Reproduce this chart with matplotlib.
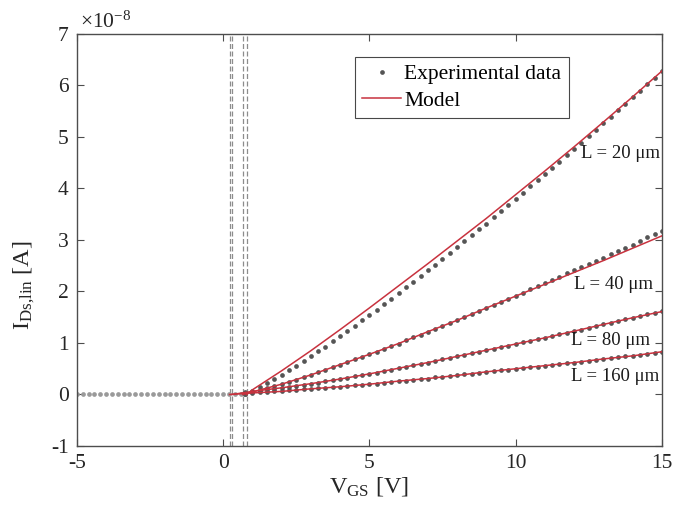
import numpy as np
import matplotlib
matplotlib.use('Agg')
import matplotlib.pyplot as plt

plt.rcParams['font.family'] = ['Liberation Serif', 'DejaVu Serif']
plt.rcParams['mathtext.fontset'] = 'custom'
plt.rcParams['mathtext.rm'] = 'Liberation Serif'
plt.rcParams['mathtext.it'] = 'Liberation Serif:italic'
plt.rcParams['axes.unicode_minus'] = False

# --- data (current in units of 1e-8 A) ---
lengths = ['20', '40', '80', '160']

# off region: all devices at zero current
v_off = np.arange(-5, 0.61, 0.2)
i_off = [0.0] * len(v_off)

# on region sweep
v_on = np.arange(0.75, 15.01, 0.25)
i_L20 = [0.01, 0.07, 0.14, 0.22, 0.30, 0.38, 0.47, 0.56, 0.65, 0.74, 0.84, 0.93, 1.03, 1.13, 1.23,
         1.33, 1.44, 1.54, 1.65, 1.75, 1.86, 1.97, 2.08, 2.19, 2.30, 2.41, 2.52, 2.63, 2.75, 2.86,
         2.98, 3.09, 3.21, 3.32, 3.44, 3.56, 3.68, 3.80, 3.92, 4.04, 4.16, 4.28, 4.40, 4.52, 4.65,
         4.77, 4.89, 5.02, 5.14, 5.27, 5.39, 5.52, 5.65, 5.77, 5.90, 6.03, 6.15, 6.28]
i_L40 = [0.01, 0.05, 0.08, 0.12, 0.16, 0.20, 0.25, 0.29, 0.34, 0.38, 0.43, 0.48, 0.53, 0.58, 0.63,
         0.68, 0.73, 0.78, 0.83, 0.88, 0.94, 0.99, 1.05, 1.11, 1.16, 1.22, 1.27, 1.33, 1.39, 1.44,
         1.50, 1.56, 1.62, 1.68, 1.74, 1.80, 1.86, 1.92, 1.98, 2.04, 2.10, 2.16, 2.22, 2.28, 2.35,
         2.41, 2.47, 2.54, 2.60, 2.66, 2.72, 2.79, 2.85, 2.91, 2.98, 3.05, 3.11, 3.17]
i_L80 = [0.04, 0.05, 0.07, 0.09, 0.11, 0.12, 0.15, 0.17, 0.19, 0.21, 0.23, 0.26, 0.28, 0.30, 0.32,
         0.35, 0.37, 0.40, 0.42, 0.45, 0.48, 0.51, 0.54, 0.57, 0.59, 0.62, 0.65, 0.68, 0.71, 0.74,
         0.77, 0.80, 0.83, 0.86, 0.89, 0.92, 0.95, 0.98, 1.01, 1.04, 1.07, 1.10, 1.13, 1.17, 1.20,
         1.23, 1.26, 1.30, 1.33, 1.36, 1.39, 1.43, 1.46, 1.49, 1.52, 1.56, 1.59, 1.62]
i_L160 = [0.03, 0.03, 0.04, 0.05, 0.06, 0.06, 0.08, 0.09, 0.10, 0.11, 0.12, 0.13, 0.14, 0.15, 0.16,
          0.18, 0.19, 0.20, 0.21, 0.23, 0.24, 0.26, 0.27, 0.29, 0.30, 0.31, 0.33, 0.34, 0.36, 0.37,
          0.39, 0.40, 0.42, 0.44, 0.45, 0.47, 0.48, 0.50, 0.51, 0.53, 0.54, 0.56, 0.57, 0.59, 0.61,
          0.62, 0.64, 0.66, 0.67, 0.69, 0.70, 0.72, 0.74, 0.75, 0.77, 0.79, 0.80, 0.82]

# threshold voltages (dashed lines) and model curves
vth = [0.81, 0.67, 0.31, 0.22]
v_model = list(range(1, 16))
m_L20 = [0.09, 0.46, 0.85, 1.26, 1.68, 2.11, 2.54, 2.98, 3.42, 3.88, 4.34, 4.81, 5.29, 5.78, 6.28]
m_L40 = [0.05, 0.20, 0.38, 0.58, 0.78, 0.99, 1.22, 1.44, 1.68, 1.91, 2.14, 2.37, 2.60, 2.84, 3.08]
m_L80 = [0.06, 0.13, 0.21, 0.30, 0.40, 0.51, 0.62, 0.74, 0.86, 0.98, 1.10, 1.23, 1.36, 1.49, 1.61]
m_L160 = [0.03, 0.06, 0.11, 0.15, 0.20, 0.26, 0.31, 0.37, 0.44, 0.50, 0.56, 0.62, 0.69, 0.75, 0.83]

# label anchors (V, I)
label_pos = [(14.95, 4.67), (14.7, 2.13), (14.6, 1.04), (14.9, 0.34)]

exp_data = [i_L20, i_L40, i_L80, i_L160]
models = [m_L20, m_L40, m_L80, m_L160]

dot_col = '#555555'
red = '#c8323e'
axcol = '#4d4d4d'
txt = '#262626'

fig = plt.figure(figsize=(6.74, 5.15), dpi=100)
ax = fig.add_axes([0.114, 0.134, 0.868, 0.80])

for v in vth:
    ax.axvline(v, color='#8c8c8c', lw=0.9, ls=(0, (4, 2)), zorder=1)

ax.plot(v_off, i_off, 'o', ms=3.4, mew=0, color='#9a9a9a', zorder=2)
for k, data in enumerate(exp_data):
    ax.plot(v_on, data, 'o', ms=3.4, mew=0, color=dot_col, zorder=2,
            label='Experimental data' if k == 0 else None)
for k, m in enumerate(models):
    ax.plot([vth[k]] + v_model, [0.0] + m, '-', color=red, lw=1.1, zorder=3,
            label='Model' if k == 0 else None)

for k, L in enumerate(lengths):
    ax.text(label_pos[k][0], label_pos[k][1], 'L = ' + L + ' \u03bcm', ha='right', va='center',
            fontsize=13.5, color='#1a1a1a')

ax.set_xlim(-5, 15)
ax.set_ylim(-1, 7)
ax.set_xticks([-5, 0, 5, 10, 15])
ax.set_yticks(range(-1, 8))
ax.tick_params(direction='in', length=5, width=0.8, top=True, right=True,
               labelsize=15.5, colors=axcol, labelcolor=txt, pad=6)
for s in ax.spines.values():
    s.set_color(axcol)
    s.set_linewidth(1.0)

ax.set_xlabel(r'V$_{\mathrm{GS}}$ [V]', fontsize=17.5, color=txt, labelpad=1)
ax.set_ylabel(r'I$_{\mathrm{Ds{,}lin}}$ [A]', fontsize=17.5, color=txt)
ax.yaxis.set_label_coords(-0.068, 0.39)
ax.text(0.005, 1.003, r'$\times$10$^{\mathrm{-8}}$', transform=ax.transAxes, ha='left', va='bottom',
        fontsize=15.5, color=txt)

leg = ax.legend(loc='upper left', bbox_to_anchor=(0.475, 0.945), fontsize=15.5, frameon=True,
                fancybox=False, edgecolor='#1a1a1a', handlelength=1.8, handletextpad=0.15,
                borderpad=0.35, labelspacing=0.3, borderaxespad=0)
leg.get_frame().set_linewidth(0.8)

fig.savefig('out.png', dpi=100)
